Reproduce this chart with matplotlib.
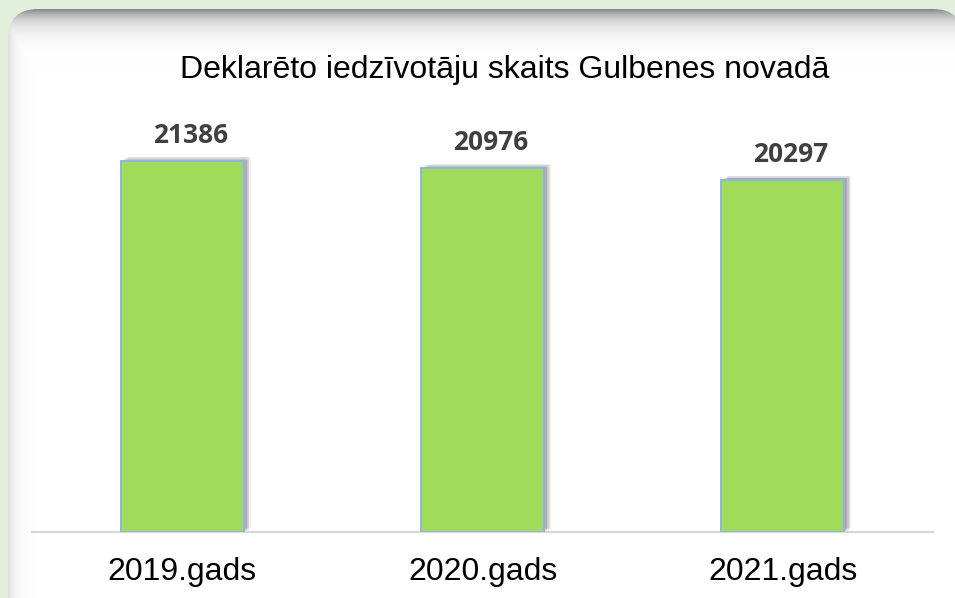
import numpy as np
import matplotlib
matplotlib.use("Agg")
from matplotlib import pyplot as plt
from matplotlib.patches import FancyBboxPatch
from matplotlib import patheffects as pe

# data
years = ['2019.gads', '2020.gads', '2021.gads']
residents = [21386, 20976, 20297]
title = 'Deklarēto iedzīvotāju skaits Gulbenes novadā'

W, H = 955, 598
fig = plt.figure(figsize=(W / 100, H / 100), dpi=100)
fig.patch.set_facecolor('#E2EFDA')

# background panel (pixel coords, y down)
bg = fig.add_axes([0, 0, 1, 1])
bg.set_xlim(0, W)
bg.set_ylim(H, 0)
bg.axis('off')
panel = FancyBboxPatch((8, 9), 955, 620, boxstyle="round,pad=0,rounding_size=30",
                       fc='white', ec='none')
bg.add_patch(panel)

# inner shadow at top / left of the panel
yy, xx = np.mgrid[0:H, 0:W]
a_top = 0.85 * np.exp(-np.clip(yy - 9, 0, None) / 11.0)
a_left = 0.22 * np.exp(-np.clip(xx - 8, 0, None) / 7.0)
alpha = np.maximum(a_top, a_left)
shade = np.zeros((H, W, 4))
shade[..., :3] = 0.45
shade[..., 3] = alpha
im = bg.imshow(shade, extent=(0, W, H, 0), interpolation='bilinear', zorder=2)
im.set_clip_path(panel)

fig.text(505 / W, (H - 78) / H, title, ha='center', va='baseline',
         fontsize=23, family='Liberation Sans', color='black')

ax = fig.add_axes([32 / W, (H - 532) / H, 901 / W, 432 / H])
ax.patch.set_alpha(0)
x = np.arange(len(years))

shadow = [pe.SimplePatchShadow(offset=(dx, dy), shadow_rgbFace='black', alpha=0.06)
          for dx, dy in ((1, 1), (2, 1.5), (3, 2), (4, 2.5), (5, 3), (2, 0.5), (3.5, 1))] \
    + [pe.Normal()]
bars = ax.bar(x, residents, width=0.41, color='#A0DC5A', edgecolor='#93B3E6',
              linewidth=1.4, zorder=3)
for b in bars:
    b.set_path_effects(shadow)

for i, v in enumerate(residents):
    ax.annotate(str(v), xy=(i, v), xytext=(6, 13), textcoords='offset points',
                ha='center', va='baseline', fontsize=19, fontweight='bold',
                family='Open Sans', color='#404040')
    ax.annotate(years[i], xy=(i, 0), xycoords=('data', 'axes fraction'),
                xytext=(0, -34.5), textcoords='offset points',
                ha='center', va='baseline', fontsize=23, family='Liberation Sans',
                color='black')

ax.set_xlim(-0.5, 2.5)
ax.set_ylim(0, 24900)
ax.set_xticks([])
ax.set_yticks([])
for s in ('top', 'left', 'right'):
    ax.spines[s].set_visible(False)
ax.spines['bottom'].set_color('#D9D9D9')
ax.spines['bottom'].set_linewidth(1.6)

fig.savefig('out.png', dpi=100, facecolor=fig.get_facecolor())
